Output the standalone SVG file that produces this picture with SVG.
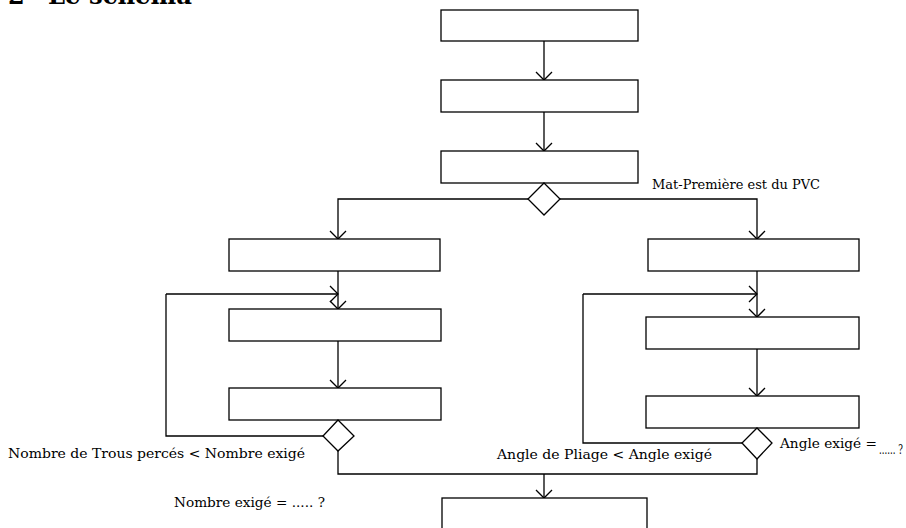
<svg xmlns="http://www.w3.org/2000/svg" width="906" height="528" viewBox="0 0 906 528">
<style>
.box{fill:#fff;stroke:#000;stroke-width:1.3}
.dia{fill:#fff;stroke:#000;stroke-width:1.3}
.ln{fill:none;stroke:#000;stroke-width:1.3}
.lbl{font-family:"DejaVu Serif","Liberation Serif",serif;font-size:13px;fill:#000}
.ttl{font-family:"DejaVu Serif","Liberation Serif",serif;font-size:24px;font-weight:bold;fill:#000}
</style>
<defs>
<marker id="arr" markerWidth="20" markerHeight="20" refX="10" refY="10" orient="auto" markerUnits="userSpaceOnUse">
<path d="M2,2 L10,10 L2,18" fill="none" stroke="#000" stroke-width="1.3"/>
</marker>
</defs>
<rect width="906" height="528" fill="#fff"/>
<g id="title">
<text class="ttl" x="8" y="4">2</text>
<text class="ttl" x="48" y="4" textLength="144" lengthAdjust="spacingAndGlyphs">Le schéma</text>
</g>
<g id="connectors">
<path class="ln" d="M544,41 V80" marker-end="url(#arr)"/>
<path class="ln" d="M544,112 V151" marker-end="url(#arr)"/>
<path class="ln" d="M528,199 H338 V239" marker-end="url(#arr)"/>
<path class="ln" d="M560,199 H757 V239" marker-end="url(#arr)"/>
<path class="ln" d="M338,271 V309" marker-end="url(#arr)"/>
<path class="ln" d="M166,294 H338" marker-end="url(#arr)"/>
<path class="ln" d="M323,436 H166 V294"/>
<path class="ln" d="M338,341 V388" marker-end="url(#arr)"/>
<path class="ln" d="M757,271 V317" marker-end="url(#arr)"/>
<path class="ln" d="M583,294 H757" marker-end="url(#arr)"/>
<path class="ln" d="M742,443 H583 V294"/>
<path class="ln" d="M757,349 V396" marker-end="url(#arr)"/>
<path class="ln" d="M338,451 V474 H757 V459"/>
<path class="ln" d="M544,474 V498" marker-end="url(#arr)"/>
</g>
<g id="n1"><rect class="box" x="441" y="10" width="197" height="31"/></g>
<g id="n2"><rect class="box" x="441" y="80" width="197" height="32"/></g>
<g id="n3"><rect class="box" x="441" y="151" width="197" height="32"/></g>
<g id="d1"><path class="dia" d="M544,183 L560,199 L544,215 L528,199 Z"/></g>
<g id="l1"><rect class="box" x="229" y="239" width="211" height="32"/></g>
<g id="l2"><rect class="box" x="229" y="309" width="212" height="32"/></g>
<g id="l3"><rect class="box" x="229" y="388" width="212" height="32"/></g>
<g id="d2"><path class="dia" d="M338,420 L354,436 L338,451 L323,436 Z"/></g>
<g id="r1"><rect class="box" x="648" y="239" width="211" height="32"/></g>
<g id="r2"><rect class="box" x="646" y="317" width="213" height="32"/></g>
<g id="r3"><rect class="box" x="646" y="396" width="213" height="32"/></g>
<g id="d3"><path class="dia" d="M757,428 L772,443 L757,459 L742,443 Z"/></g>
<g id="n4"><rect class="box" x="442" y="498" width="205" height="40"/></g>
<g id="labels">
<text class="lbl" x="652" y="189" textLength="168" lengthAdjust="spacingAndGlyphs">Mat-Première est du PVC</text>
<text class="lbl" x="8" y="458" textLength="297" lengthAdjust="spacingAndGlyphs">Nombre de Trous percés &lt; Nombre exigé</text>
<text class="lbl" x="497" y="459" textLength="215" lengthAdjust="spacingAndGlyphs">Angle de Pliage &lt; Angle exigé</text>
<text class="lbl" x="780" y="448" textLength="97" lengthAdjust="spacingAndGlyphs">Angle exigé =</text>
<text class="lbl" x="879" y="454" textLength="24" lengthAdjust="spacingAndGlyphs">...... ?</text>
<text class="lbl" x="174" y="507" textLength="151" lengthAdjust="spacingAndGlyphs">Nombre exigé = ..... ?</text>
</g>
</svg>
